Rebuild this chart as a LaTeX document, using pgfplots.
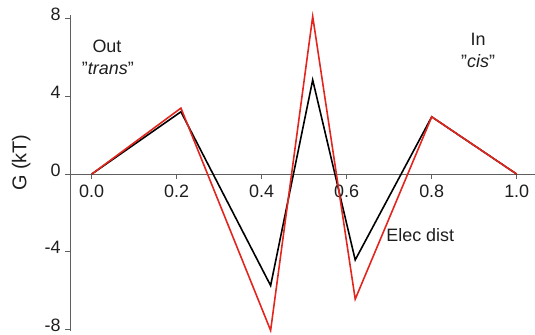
\documentclass[border=0pt]{standalone}
\usepackage{pgfplots}
\pgfplotsset{compat=1.18}
\usepackage{fontspec}
\setmainfont{Liberation Sans}
\definecolor{trace}{RGB}{226,38,30}
\definecolor{axisgray}{RGB}{95,95,95}
\definecolor{ink}{RGB}{30,30,30}
\begin{document}
\begin{tikzpicture}[x=1bp,y=1bp]
\path[use as bounding box] (-70,-3.5) rectangle (465,331);
\begin{axis}[
  at={(0,0)}, anchor=south west,
  scale only axis,
  width=465bp, height=315.5bp,
  xmin=-0.051, xmax=1.043,
  ymin=-8.08, ymax=8.17,
  axis x line*=middle,
  axis y line*=left,
  axis line style={axisgray, line width=0.9pt},
  tick style={axisgray, line width=0.9pt},
  tick align=outside,
  major tick length=5bp,
  xtick={0,0.2,0.4,0.6,0.8,1.0},
  xticklabels={0.0,0.2,0.4,0.6,0.8,1.0},
  ytick={-8,-4,0,4,8},
  yticklabels={-8,-4,0,4,8},
  ticklabel style={font=\fontsize{18}{21}\selectfont, text=ink},
  xticklabel style={yshift=-2bp},
  yticklabel style={inner ysep=0pt, xshift=-1bp, yshift=4bp},
  clip=false,
]
\addplot[black, line width=1.6pt, line join=miter] coordinates {
  (0.00,0) (0.21,3.21) (0.421,-5.74) (0.52,4.85) (0.62,-4.42) (0.80,2.95) (1.00,0)
};
\addplot[trace, line width=1.6pt, line join=miter] coordinates {
  (0.00,0) (0.21,3.40) (0.421,-8.05) (0.52,8.12) (0.62,-6.44) (0.80,2.95) (1.00,0)
};
\node[text=ink, font=\fontsize{18}{21}\selectfont] at (axis cs:0.036,6.6) {Out};
\node[text=ink, font=\fontsize{18}{21}\selectfont] at (axis cs:0.038,5.45) {"\textit{trans}"};
\node[text=ink, font=\fontsize{18}{21}\selectfont] at (axis cs:0.909,6.92) {In};
\node[text=ink, font=\fontsize{18}{21}\selectfont] at (axis cs:0.909,5.8) {"\textit{cis}"};
\node[text=ink, font=\fontsize{18}{21}\selectfont] at (axis cs:0.773,-3.13) {Elec dist};
\node[text=ink, font=\fontsize{20}{24}\selectfont, rotate=90] at (axis cs:-0.166,0.59) {G (kT)};
\end{axis}
\end{tikzpicture}
\end{document}
